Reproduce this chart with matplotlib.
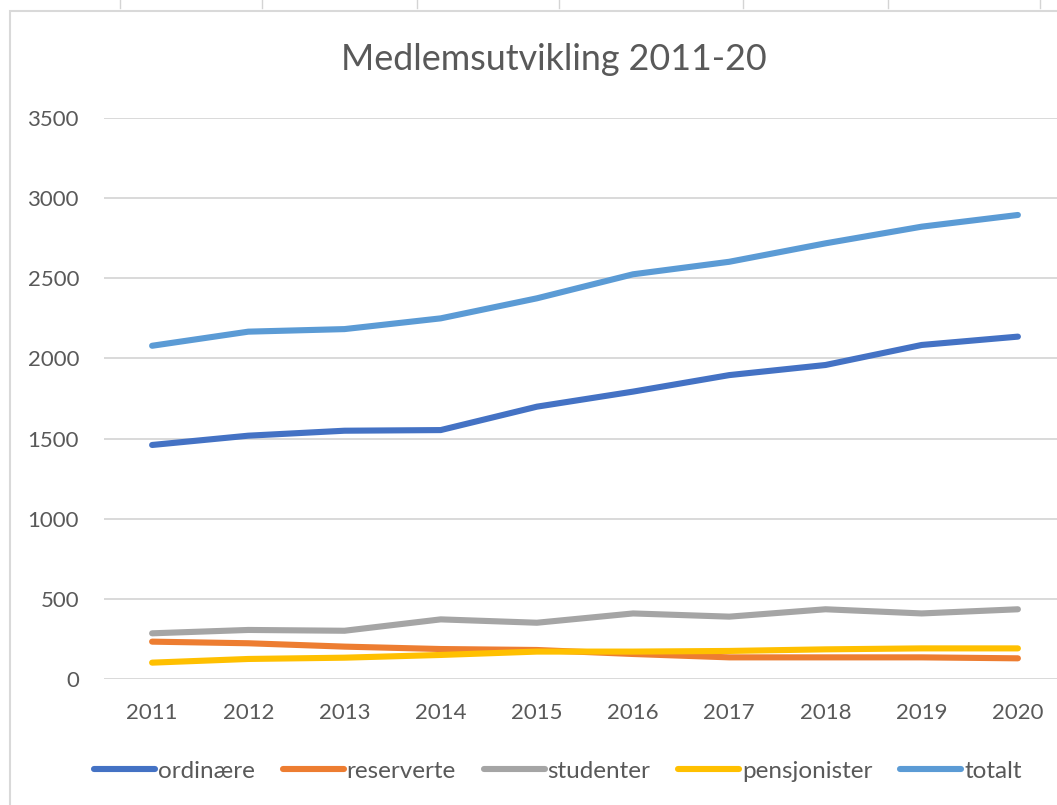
import matplotlib.pyplot as plt
from matplotlib.patches import Rectangle
from matplotlib.lines import Line2D

# Data
years = [2011, 2012, 2013, 2014, 2015, 2016, 2017, 2018, 2019, 2020]
ordinaere = [1460, 1518, 1549, 1553, 1699, 1793, 1896, 1959, 2084, 2136]
reserverte = [233, 223, 202, 187, 181, 156, 135, 135, 135, 129]
studenter = [285, 306, 301, 372, 351, 409, 389, 435, 409, 435]
pensjonister = [102, 125, 133, 150, 171, 171, 175, 185, 191, 191]
totalt = [2079, 2167, 2183, 2250, 2375, 2525, 2603, 2718, 2822, 2895]

series = [
    ("ordinære", ordinaere, "#4472C4"),
    ("reserverte", reserverte, "#ED7D31"),
    ("studenter", studenter, "#A5A5A5"),
    ("pensjonister", pensjonister, "#FFC000"),
    ("totalt", totalt, "#5B9BD5"),
]

plt.rcParams['font.family'] = ['Lato', 'DejaVu Sans']
text_color = "#595959"

W, H = 1057, 805
fig = plt.figure(figsize=(W / 100, H / 100), dpi=100)

# spreadsheet cell lines above the chart
for xc in [120, 262, 417, 559, 743, 888, 1040]:
    fig.add_artist(Line2D([xc / W, xc / W], [1, 1 - 8 / H], color="#D4D4D4", lw=1))

# chart area border
fig.add_artist(Rectangle((10 / W, -0.05), 1.2, 1 - 11 / H + 0.05, transform=fig.transFigure,
                         fill=False, edgecolor="#D9D9D9", lw=1.5))

# axes: plot area from x=104..1066 px, y=118..679 px
left, right, top, bottom = 104, 1066, 118, 679
ax = fig.add_axes([left / W, 1 - bottom / H, (right - left) / W, (bottom - top) / H])

for name, vals, color in series:
    ax.plot(years, vals, color=color, lw=4.4, solid_capstyle='round',
            solid_joinstyle='round', label=name)

ax.set_xlim(2010.5, 2020.5)
ax.set_ylim(0, 3500)
ax.set_xticks(years)
ax.set_yticks(range(0, 3501, 500))
ax.grid(axis='y', color="#D9D9D9", lw=1.4)
ax.set_axisbelow(True)
for s in ax.spines.values():
    s.set_visible(False)
ax.tick_params(axis='both', length=0, labelsize=16, labelcolor=text_color)
ax.tick_params(axis='y', pad=18)
ax.tick_params(axis='x', pad=17)

fig.text(554 / W, 1 - 60 / H, "Medlemsutvikling 2011-20", ha='center', va='center',
         fontsize=25.8, color=text_color)

leg = fig.legend(loc='center', bbox_to_anchor=(558 / W, 1 - 771 / H), ncol=5,
                 frameon=False, fontsize=17.5, handlelength=2.5, handletextpad=0.12,
                 columnspacing=1.15, labelcolor=text_color)

plt.savefig("out.png", dpi=100)
